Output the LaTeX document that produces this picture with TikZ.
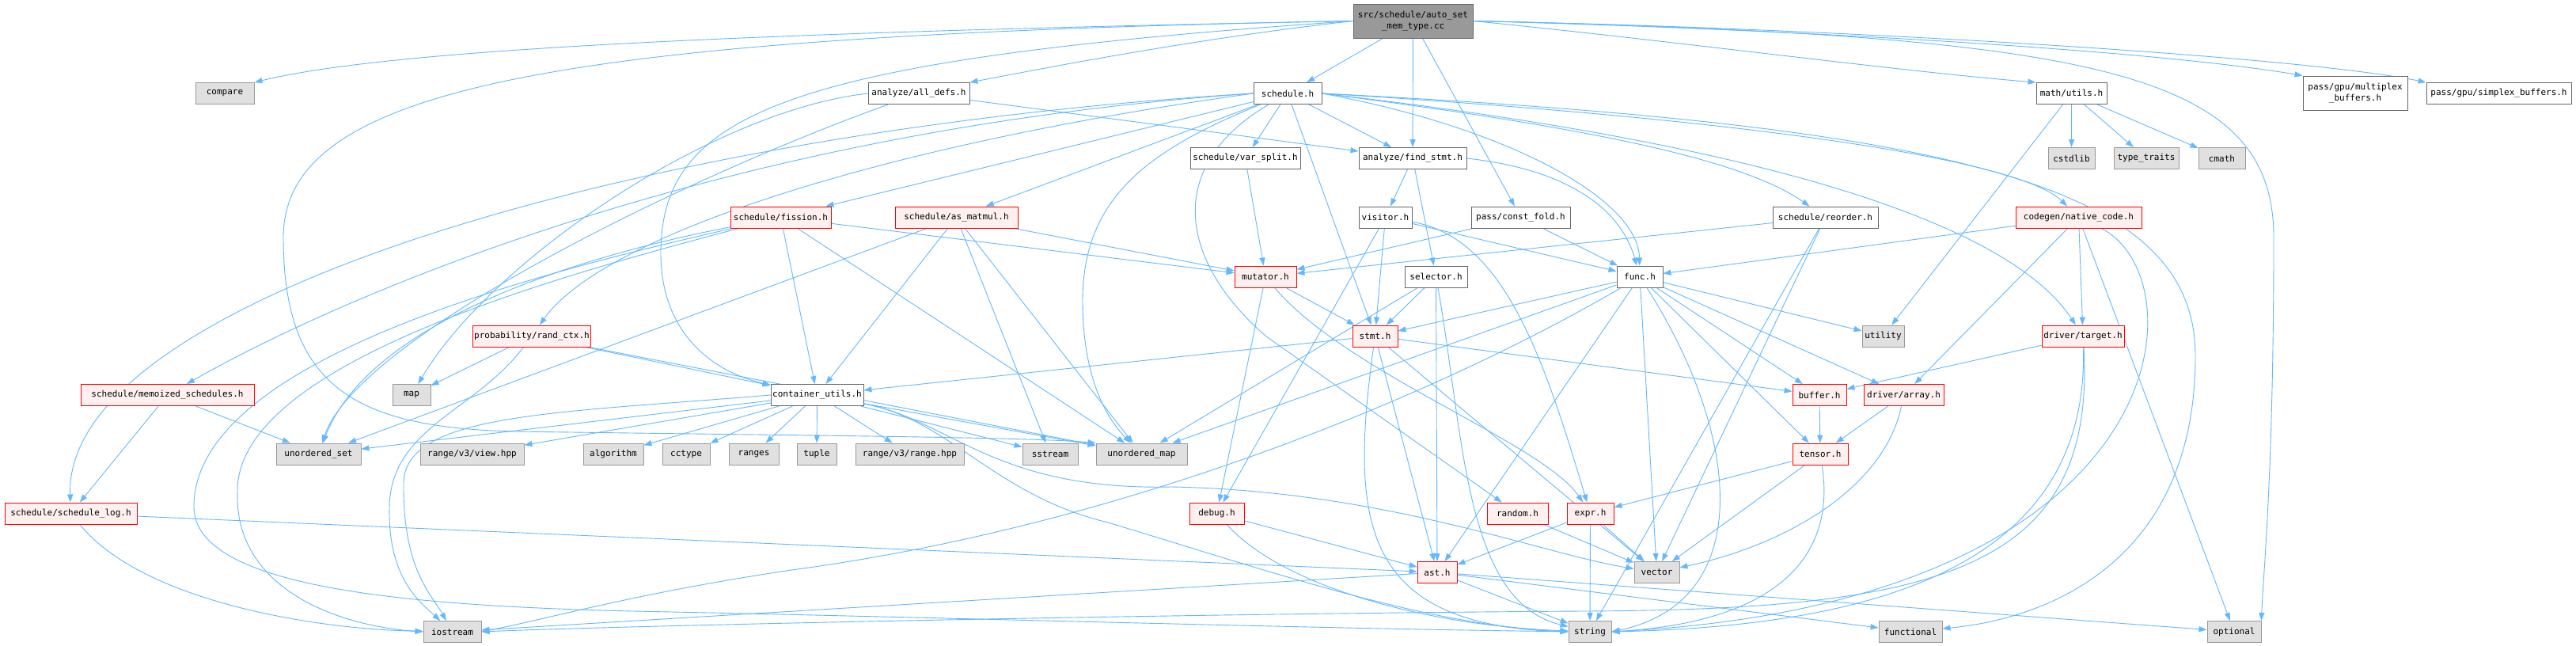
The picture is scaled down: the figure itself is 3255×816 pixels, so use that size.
\documentclass[tikz,border=0pt]{standalone}
\usepackage{fontspec}
\newfontfamily\dfont{DejaVu Sans Mono}
\usetikzlibrary{arrows.meta}
\definecolor{edgec}{HTML}{63B8FF}
\definecolor{redb}{HTML}{FF0000}
\definecolor{redf}{HTML}{FFF0F0}
\definecolor{stdf}{HTML}{E0E0E0}
\definecolor{stdb}{HTML}{999999}
\definecolor{normb}{HTML}{666666}
\definecolor{rootf}{HTML}{999999}
\pgfdeclarelayer{back}
\pgfdeclarelayer{edges}
\pgfsetlayers{back,edges,main}
\begin{document}
\begin{tikzpicture}[x=1pt,y=-1pt,
  basebox/.style={line width=0.9pt, minimum height=27pt, inner xsep=2pt, inner ysep=0pt,
    font={\dfont\fontsize{11}{14}\selectfont}, text=black, align=center},
  normbox/.style={basebox, draw=normb, fill=white},
  truncbox/.style={basebox, draw=redb, fill=redf},
  stdbox/.style={basebox, draw=stdb, fill=stdf},
  rootbox/.style={basebox, draw=normb, fill=rootf},
  dep/.style={draw=edgec, line width=0.9pt, -{Triangle[length=10pt,width=7pt]}}
]
\begin{pgfonlayer}{back}
\fill[white] (0,0) rectangle (3255,816);
\end{pgfonlayer}
\useasboundingbox (0,0) rectangle (3255,816);

% row 0
\node[rootbox, minimum width=151pt, minimum height=43pt] (auto) at (1785.5,26.5) {src/schedule/auto\_set\\\_mem\_type.cc};
% row 1
\node[stdbox, minimum width=74pt] (compare) at (284,118) {compare};
\node[normbox, minimum width=128pt] (alldefs) at (1161,118) {analyze/all\_defs.h};
\node[normbox, minimum width=86pt] (sched) at (1627,118) {schedule.h};
\node[normbox, minimum width=89pt] (mathu) at (2617.5,118) {math/utils.h};
\node[normbox, minimum width=132pt, minimum height=43pt] (multi) at (2976,117.5) {pass/gpu/multiplex\\\_buffers.h};
\node[normbox, minimum width=183pt] (simplex) at (3157.5,118) {pass/gpu/simplex\_buffers.h};
% row 2
\node[normbox, minimum width=139pt] (varsplit) at (1573.5,200) {schedule/var\_split.h};
\node[normbox, minimum width=136pt] (findstmt) at (1785,200) {analyze/find\_stmt.h};
\node[stdbox, minimum width=59pt] (cstdlib) at (2617.5,200) {cstdlib};
\node[stdbox, minimum width=82pt] (typetr) at (2712,200) {type\_traits};
\node[stdbox, minimum width=59pt] (cmath) at (2807.5,200) {cmath};
% row 3
\node[truncbox, minimum width=127pt] (fission) at (986.5,274.5) {schedule/fission.h};
\node[truncbox, minimum width=155pt] (asmat) at (1208.5,274.5) {schedule/as\_matmul.h};
\node[normbox, minimum width=67pt] (visitor) at (1750.5,274.5) {visitor.h};
\node[normbox, minimum width=125pt] (constf) at (1921.5,274.5) {pass/const\_fold.h};
\node[normbox, minimum width=133pt] (reorder) at (2306.5,274.5) {schedule/reorder.h};
\node[truncbox, minimum width=159pt] (native) at (2626.5,274.5) {codegen/native\_code.h};
% row 4
\node[truncbox, minimum width=78pt] (mutator) at (1599,349.5) {mutator.h};
\node[normbox, minimum width=79pt] (selector) at (1814.5,349.5) {selector.h};
\node[normbox, minimum width=58pt] (funch) at (2072,349.5) {func.h};
% row 5
\node[truncbox, minimum width=148pt] (prob) at (672,424.5) {probability/rand\_ctx.h};
\node[truncbox, minimum width=57pt] (stmth) at (1737.5,424.5) {stmt.h};
\node[stdbox, minimum width=53pt] (utility) at (2379.5,424.5) {utility};
\node[truncbox, minimum width=104pt] (target) at (2632,424.5) {driver/target.h};
% row 6
\node[truncbox, minimum width=219pt] (memo) at (211.5,499) {schedule/memoized\_schedules.h};
\node[stdbox, minimum width=48pt] (map) at (520,499) {map};
\node[normbox, minimum width=117pt] (cutils) at (1032.5,499) {container\_utils.h};
\node[truncbox, minimum width=68pt] (buffer) at (2299,499) {buffer.h};
\node[truncbox, minimum width=101pt] (array) at (2405.5,499) {driver/array.h};
% row 7
\node[stdbox, minimum width=107pt] (uset) at (402.5,573.5) {unordered\_set};
\node[stdbox, minimum width=131pt] (view) at (596.5,573.5) {range/v3/view.hpp};
\node[stdbox, minimum width=76pt] (algo) at (775,573.5) {algorithm};
\node[stdbox, minimum width=60pt] (cctype) at (867,573.5) {cctype};
\node[stdbox, minimum width=63pt] (ranges) at (952.5,573.5) {ranges};
\node[stdbox, minimum width=50pt] (tuple) at (1032,573.5) {tuple};
\node[stdbox, minimum width=137pt] (rangehpp) at (1149.5,573.5) {range/v3/range.hpp};
\node[stdbox, minimum width=70pt] (sstream) at (1327,573.5) {sstream};
\node[stdbox, minimum width=115pt] (uomap) at (1442.5,573.5) {unordered\_map};
\node[truncbox, minimum width=70pt] (tensor) at (2300,573.5) {tensor.h};
% row 8
\node[truncbox, minimum width=167pt] (slog) at (89.5,648.5) {schedule/schedule\_log.h};
\node[truncbox, minimum width=69pt] (debug) at (1537.5,648.5) {debug.h};
\node[truncbox, minimum width=77pt] (random) at (1917.5,648.5) {random.h};
\node[truncbox, minimum width=59pt] (expr) at (2009.5,648.5) {expr.h};
% row 9
\node[truncbox, minimum width=50pt] (ast) at (1816,723) {ast.h};
\node[stdbox, minimum width=57pt] (vector) at (2093.5,723) {vector};
% row 10
\node[stdbox, minimum width=73pt] (iostream) at (571.5,798) {iostream};
\node[stdbox, minimum width=54pt] (string) at (2009,798) {string};
\node[stdbox, minimum width=80pt] (functional) at (2414,798) {functional};
\node[stdbox, minimum width=68pt] (optional) at (2823,798) {optional};

\begin{pgfonlayer}{edges}
% auto_set
\draw[dep] (auto.west) .. controls (1000,40) and (500,60) .. (compare.north east);
\draw[dep] (auto.west) .. controls (700,45) and (358,110) .. (358,300) .. controls (358,490) and (450,540) .. (650,545) .. controls (1000,550) and (1300,552) .. (uomap.north west);
\draw[dep] (auto.west) .. controls (1000,75) and (835,140) .. (835,320) .. controls (835,420) and (900,470) .. (cutils);
\draw[dep] (auto.west) .. controls (1500,50) and (1300,90) .. (alldefs.north east);
\draw[dep] (auto) -- (sched);
\draw[dep] (auto) -- (findstmt);
\draw[dep] (auto) -- (constf);
\draw[dep] (auto.east) .. controls (2100,50) and (2400,90) .. (mathu.north west);
\draw[dep] (auto.east) .. controls (2200,35) and (2700,60) .. (multi.north west);
\draw[dep] (auto.east) .. controls (2300,35) and (2900,70) .. (simplex.north west);
\draw[dep] (auto.east) .. controls (2650,45) and (2873,90) .. (2873,300) .. controls (2873,600) and (2860,720) .. (optional.north east);
% all_defs
\draw[dep] (alldefs) -- (findstmt);
\draw[dep] (alldefs.west) .. controls (900,140) and (620,330) .. (map);
\draw[dep] (alldefs) .. controls (850,230) and (450,430) .. (uset);
% schedule.h
\draw[dep] (sched) -- (varsplit);
\draw[dep] (sched) -- (findstmt);
\draw[dep] (sched) -- (fission);
\draw[dep] (sched) -- (asmat);
\draw[dep] (sched.east) .. controls (1900,160) and (2070,250) .. (funch);
\draw[dep] (sched) -- (stmth);
\draw[dep] (sched.east) .. controls (2000,160) and (2200,200) .. (reorder);
\draw[dep] (sched.east) .. controls (2200,150) and (2550,200) .. (native);
\draw[dep] (sched.east) .. controls (2300,190) and (2550,300) .. (target);
\draw[dep] (sched.east) .. controls (2500,160) and (2774,240) .. (2774,450) .. controls (2774,700) and (2600,780) .. (functional);
\draw[dep] (sched) .. controls (1450,190) and (1368,250) .. (1368,380) .. controls (1368,480) and (1400,530) .. (uomap);
\draw[dep] (sched) .. controls (1470,210) and (1490,330) .. (1600,425) -- (random);
\draw[dep] (sched.west) .. controls (800,165) and (80,380) .. (slog);
\draw[dep] (sched.west) .. controls (900,165) and (420,380) .. (memo);
\draw[dep] (sched.west) .. controls (1100,185) and (760,300) .. (prob);
% fission
\draw[dep] (fission) -- (mutator);
\draw[dep] (fission) -- (cutils);
\draw[dep] (fission) -- (uomap);
\draw[dep] (fission) .. controls (750,320) and (470,400) .. (uset);
\draw[dep] (fission) .. controls (700,350) and (300,460) .. (300,620) .. controls (295,740) and (420,790) .. (iostream.west);
\draw[dep] (fission) .. controls (700,340) and (245,450) .. (245,640) .. controls (245,740) and (500,765) .. (800,772) .. controls (1200,780) and (1700,795) .. (string);
% as_matmul
\draw[dep] (asmat) -- (mutator);
\draw[dep] (asmat) -- (cutils);
\draw[dep] (asmat) -- (sstream);
\draw[dep] (asmat) -- (uomap);
\draw[dep] (asmat) -- (uset);
% memoized, schedule_log
\draw[dep] (memo) -- (uset);
\draw[dep] (memo) -- (slog);
\draw[dep] (slog) -- (ast);
\draw[dep] (slog) .. controls (180,760) and (400,795) .. (iostream);
% probability
\draw[dep] (prob) -- (map);
\draw[dep] (prob) -- (cutils);
\draw[dep] (prob) -- (uomap);
\draw[dep] (prob) .. controls (600,520) and (494,540) .. (492,640) .. controls (490,730) and (530,760) .. (iostream);
% container_utils
\draw[dep] (cutils) -- (uset);
\draw[dep] (cutils) -- (view);
\draw[dep] (cutils) -- (algo);
\draw[dep] (cutils) -- (cctype);
\draw[dep] (cutils) -- (ranges);
\draw[dep] (cutils) -- (tuple);
\draw[dep] (cutils) -- (rangehpp);
\draw[dep] (cutils) -- (sstream);
\draw[dep] (cutils) -- (uomap);
\draw[dep] (cutils.west) .. controls (700,522) and (512,522) .. (510,610) .. controls (509,720) and (545,750) .. (iostream);
\draw[dep] (cutils) .. controls (1200,530) and (1255,625) .. (1400,660) .. controls (1600,720) and (1800,790) .. (string.west);
\draw[dep] (cutils) .. controls (1200,530) and (1255,620) .. (1480,615) .. controls (1750,620) and (1950,700) .. (vector);
% stmt.h
\draw[dep] (stmth) -- (cutils);
\draw[dep] (stmth) -- (ast);
\draw[dep] (stmth) -- (buffer);
\draw[dep] (stmth) .. controls (1705,660) and (1720,790) .. (string.west);
\draw[dep] (stmth) -- (vector);
% mutator, selector, visitor
\draw[dep] (mutator) -- (stmth);
\draw[dep] (mutator) -- (debug);
\draw[dep] (mutator) .. controls (1700,470) and (1950,560) .. (expr);
\draw[dep] (selector) -- (stmth);
\draw[dep] (selector) -- (ast);
\draw[dep] (selector) .. controls (1850,550) and (1850,760) .. (string);
\draw[dep] (selector) -- (uomap);
\draw[dep] (visitor) -- (funch);
\draw[dep] (visitor) -- (stmth);
\draw[dep] (visitor) -- (debug);
\draw[dep] (visitor) .. controls (1900,300) and (1950,450) .. (expr);
% find_stmt, const_fold, var_split, reorder
\draw[dep] (findstmt) -- (visitor);
\draw[dep] (findstmt) -- (selector);
\draw[dep] (findstmt.east) .. controls (1990,215) and (2050,270) .. (funch);
\draw[dep] (constf) -- (mutator);
\draw[dep] (constf) -- (funch);
\draw[dep] (varsplit) -- (mutator);
\draw[dep] (reorder) -- (mutator);
\draw[dep] (reorder) -- (string);
\draw[dep] (reorder) -- (vector);
% native_code
\draw[dep] (native) -- (funch);
\draw[dep] (native) -- (array);
\draw[dep] (native) -- (target);
\draw[dep] (native) .. controls (2780,350) and (2760,760) .. (string.east);
\draw[dep] (native) -- (optional);
% func.h
\draw[dep] (funch) -- (stmth);
\draw[dep] (funch) -- (utility);
\draw[dep] (funch) -- (buffer);
\draw[dep] (funch) -- (array);
\draw[dep] (funch) -- (tensor);
\draw[dep] (funch) -- (vector);
\draw[dep] (funch) .. controls (2200,550) and (2220,760) .. (string.east);
\draw[dep] (funch) -- (ast);
\draw[dep] (funch) -- (uomap);
\draw[dep] (funch) .. controls (1850,480) and (1450,660) .. (1000,720) .. controls (800,750) and (700,780) .. (iostream.east);
% driver / buffer / tensor
\draw[dep] (target) -- (buffer);
\draw[dep] (target) .. controls (2640,700) and (2400,790) .. (string.east);
\draw[dep] (target) .. controls (2650,720) and (2450,770) .. (2000,772) .. controls (1500,775) and (800,790) .. (iostream.east);
\draw[dep] (buffer) -- (tensor);
\draw[dep] (array) -- (tensor);
\draw[dep] (array) .. controls (2380,620) and (2250,690) .. (vector);
\draw[dep] (tensor) -- (expr);
\draw[dep] (tensor) -- (vector);
\draw[dep] (tensor) .. controls (2320,700) and (2250,785) .. (string.east);
% random, debug, expr, ast
\draw[dep] (random) -- (vector);
\draw[dep] (debug) -- (ast);
\draw[dep] (debug) .. controls (1620,740) and (1800,790) .. (string);
\draw[dep] (expr) -- (ast);
\draw[dep] (expr) -- (string);
\draw[dep] (expr) -- (vector);
\draw[dep] (ast) -- (iostream);
\draw[dep] (ast) -- (string);
\draw[dep] (ast) -- (functional);
\draw[dep] (ast) -- (optional);
% math/utils
\draw[dep] (mathu) -- (cstdlib);
\draw[dep] (mathu) -- (typetr);
\draw[dep] (mathu) -- (cmath);
\draw[dep] (mathu) -- (utility);
\end{pgfonlayer}
\end{tikzpicture}
\end{document}
